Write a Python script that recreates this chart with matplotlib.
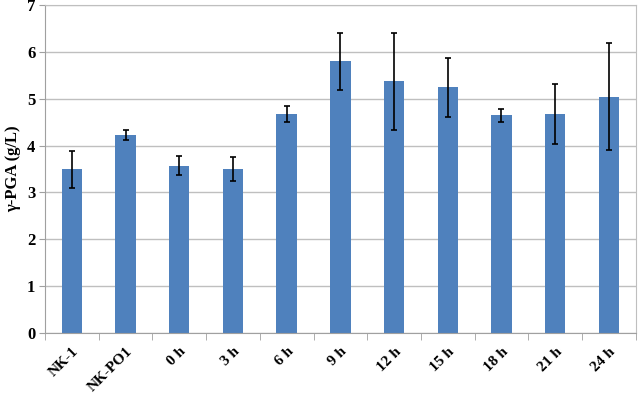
import matplotlib.pyplot as plt
import numpy as np

labels = ['NK-1', 'NK-PO1', '0 h', '3 h', '6 h', '9 h', '12 h', '15 h', '18 h', '21 h', '24 h']
pga = [3.49, 4.22, 3.57, 3.50, 4.67, 5.80, 5.37, 5.24, 4.65, 4.67, 5.04]
err = [0.40, 0.11, 0.21, 0.25, 0.17, 0.61, 1.03, 0.64, 0.14, 0.64, 1.14]

plt.rcParams['font.family'] = 'Liberation Serif'
plt.rcParams['font.weight'] = 'bold'

fig = plt.figure(figsize=(6.38, 3.94), dpi=100)
ax = fig.add_axes([0.0705, 0.1556, 0.926, 0.8314])

x = np.arange(len(labels))
ax.bar(x, pga, width=0.38, color='#4f81bd', zorder=2)
ax.errorbar(x, pga, yerr=err, fmt='none', ecolor='black', elinewidth=1.2,
            capsize=2.5, capthick=1.2, zorder=3)

ax.set_xlim(-0.5, len(labels) - 0.5)
ax.set_ylim(0, 7)
ax.set_yticks(range(8))
ax.yaxis.grid(True, color='#bfbfbf', linewidth=1, zorder=0)
ax.set_axisbelow(True)

ax.set_xticks(x)
ax.set_xticklabels(labels, rotation=45, ha='right', rotation_mode='anchor',
                   fontsize=11, fontweight='bold')
ax.tick_params(axis='x', length=0, pad=9)
ax.set_xticks(np.arange(-0.5, len(labels)), minor=True)
ax.tick_params(axis='x', which='minor', length=5, color='#a0a0a0')
ax.tick_params(axis='y', length=4, color='#a0a0a0', labelsize=12, pad=3)
for t in ax.get_yticklabels():
    t.set_fontweight('bold')

for s in ax.spines.values():
    s.set_color('#bfbfbf')
ax.spines['bottom'].set_color('#a0a0a0')
ax.spines['left'].set_color('#a0a0a0')

ax.set_ylabel('γ-PGA (g/L)', fontsize=12, fontweight='bold', labelpad=4)

fig.savefig('out.png', dpi=100)
